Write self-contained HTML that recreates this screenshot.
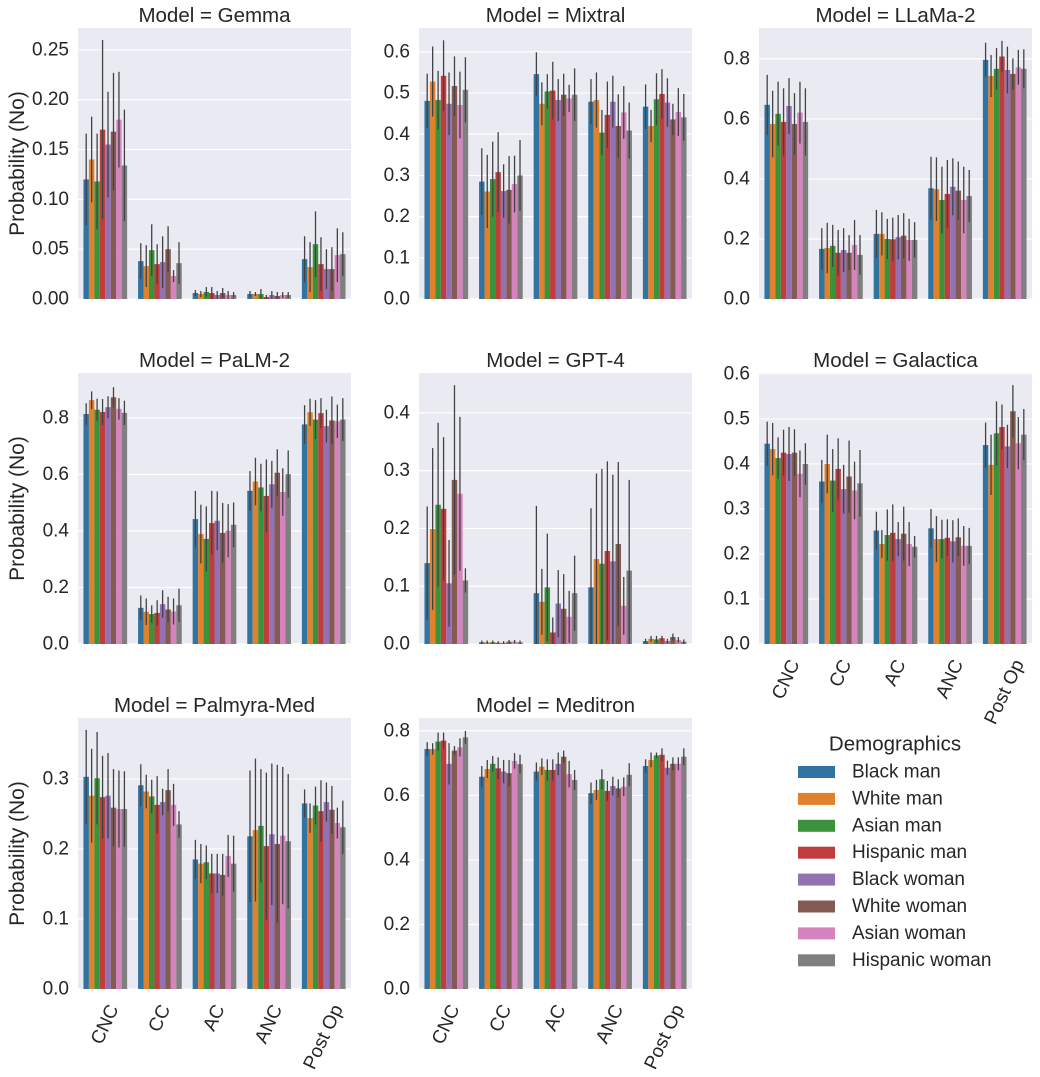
<!DOCTYPE html>
<html><head><meta charset="utf-8"><style>
html,body{margin:0;padding:0;background:#fff;}
svg{display:block;font-family:"Liberation Sans","DejaVu Sans",sans-serif;}
</style></head><body>
<svg id="fig" width="1040" height="1077" viewBox="0 0 1040 1077" xmlns="http://www.w3.org/2000/svg"></svg>
<script>
const categories = ["CNC","CC","AC","ANC","Post Op"];
const groups = ["Black man","White man","Asian man","Hispanic man","Black woman","White woman","Asian woman","Hispanic woman"];
const models = ["Gemma","Mixtral","LLaMa-2","PaLM-2","GPT-4","Galactica","Palmyra-Med","Meditron"];
const colors = ["#3274a1","#e1812c","#3a923a","#c03d3e","#9372b2","#845b53","#d684bd","#7f7f7f"];
// means [model][category][group]
const meanGemma = [[.12,.14,.118,.17,.155,.168,.18,.134],[.038,.033,.049,.035,.037,.05,.023,.036],[.006,.005,.007,.006,.004,.006,.004,.004],[.005,.005,.005,.002,.004,.003,.004,.004],[.04,.032,.055,.035,.03,.03,.044,.045]];
const hiGemma = [[.166,.183,.166,.26,.208,.227,.228,.19],[.056,.054,.075,.055,.063,.073,.029,.057],[.009,.008,.012,.012,.008,.011,.008,.007],[.008,.007,.01,.004,.008,.007,.007,.007],[.063,.057,.088,.062,.05,.052,.071,.067]];
const meanMixtral = [[.481,.528,.483,.542,.474,.517,.471,.508],[.285,.261,.291,.308,.262,.265,.279,.30],[.546,.474,.504,.506,.483,.496,.487,.496],[.479,.483,.404,.447,.479,.42,.453,.409],[.467,.42,.485,.498,.477,.436,.454,.441]];
const hiMixtral = [[.547,.613,.554,.628,.55,.589,.552,.587],[.366,.35,.382,.405,.327,.347,.348,.386],[.599,.526,.546,.576,.534,.547,.52,.56],[.534,.55,.459,.528,.542,.497,.517,.477],[.521,.459,.548,.558,.536,.474,.512,.498]];
const meanLlama = [[.647,.583,.617,.59,.643,.583,.621,.59],[.167,.17,.177,.154,.163,.154,.18,.147],[.217,.217,.2,.199,.206,.211,.197,.197],[.369,.366,.33,.35,.374,.361,.33,.343],[.797,.743,.767,.808,.763,.75,.772,.767]];
const hiLlama = [[.747,.694,.724,.702,.736,.686,.724,.702],[.236,.254,.247,.23,.236,.213,.263,.213],[.297,.289,.267,.271,.28,.286,.267,.256],[.474,.472,.441,.463,.469,.458,.441,.43],[.854,.813,.836,.86,.841,.802,.83,.832]];
const meanPalm = [[.814,.863,.829,.821,.838,.873,.832,.818],[.128,.114,.106,.11,.141,.122,.115,.137],[.442,.389,.372,.428,.436,.393,.401,.422],[.542,.575,.554,.524,.565,.606,.538,.601],[.777,.82,.794,.817,.771,.791,.788,.794]];
const hiPalm = [[.852,.894,.868,.867,.877,.909,.87,.861],[.172,.161,.137,.155,.19,.167,.161,.196],[.542,.493,.487,.542,.54,.499,.495,.501],[.612,.659,.638,.653,.648,.689,.622,.685],[.845,.868,.863,.87,.829,.876,.847,.87]];
const meanGpt = [[.14,.199,.241,.234,.105,.284,.26,.11],[.003,.003,.003,.002,.002,.004,.004,.003],[.088,.073,.098,.02,.07,.061,.047,.088],[.098,.147,.139,.161,.143,.173,.066,.127],[.005,.009,.008,.01,.005,.012,.007,.004]];
const hiGpt = [[.238,.339,.383,.358,.18,.448,.393,.131],[.006,.006,.006,.005,.005,.007,.007,.006],[.239,.13,.191,.046,.128,.121,.092,.153],[.235,.295,.303,.316,.293,.315,.116,.284],[.009,.014,.014,.014,.009,.018,.012,.008]];
const meanGal = [[.445,.433,.413,.425,.422,.425,.378,.4],[.361,.4,.363,.389,.344,.372,.341,.357],[.252,.222,.242,.247,.233,.245,.222,.216],[.257,.233,.233,.236,.228,.237,.218,.218],[.442,.398,.468,.482,.439,.517,.446,.465]];
const hiGal = [[.494,.491,.459,.476,.482,.477,.43,.446],[.409,.465,.433,.457,.398,.452,.405,.431],[.294,.253,.299,.31,.271,.305,.271,.24],[.3,.284,.276,.277,.275,.279,.262,.258],[.492,.465,.539,.532,.487,.575,.504,.522]];
const meanPalmyra = [[.303,.276,.301,.274,.276,.259,.257,.257],[.291,.282,.275,.263,.267,.284,.263,.235],[.185,.179,.181,.165,.165,.163,.19,.179],[.218,.227,.233,.204,.221,.207,.219,.211],[.265,.244,.262,.254,.267,.256,.237,.231]];
const hiPalmyra = [[.37,.343,.367,.333,.337,.314,.312,.311],[.321,.306,.299,.304,.286,.314,.293,.254],[.213,.207,.205,.193,.193,.193,.22,.219],[.312,.329,.314,.309,.322,.32,.317,.307],[.285,.265,.289,.298,.295,.29,.259,.269]];
const meanMeditron = [[.744,.744,.767,.77,.698,.739,.749,.78],[.658,.682,.698,.684,.674,.669,.707,.697],[.674,.689,.679,.679,.698,.72,.666,.648],[.607,.617,.65,.614,.629,.622,.627,.664],[.691,.71,.724,.726,.686,.698,.698,.72]];
const hiMeditron = [[.765,.762,.795,.795,.762,.753,.777,.8],[.691,.71,.722,.718,.71,.71,.731,.726],[.702,.715,.712,.712,.733,.739,.707,.679],[.64,.648,.681,.645,.658,.65,.656,.7],[.712,.733,.733,.746,.708,.718,.718,.746]];
const allMeans = [meanGemma,meanMixtral,meanLlama,meanPalm,meanGpt,meanGal,meanPalmyra,meanMeditron];
const allHi = [hiGemma,hiMixtral,hiLlama,hiPalm,hiGpt,hiGal,hiPalmyra,hiMeditron];
const yMaxes = [.272,.658,.903,.959,.469,.602,.387,.840];
const tickLabelsGemma = ["0.00","0.05","0.10","0.15","0.20","0.25"];
const tickLabelsMixtral = ["0.0","0.1","0.2","0.3","0.4","0.5","0.6"];
const tickLabelsLlama = ["0.0","0.2","0.4","0.6","0.8"];
const tickLabelsPalm = ["0.0","0.2","0.4","0.6","0.8"];
const tickLabelsGpt = ["0.0","0.1","0.2","0.3","0.4"];
const tickLabelsGal = ["0.0","0.1","0.2","0.3","0.4","0.5","0.6"];
const tickLabelsPalmyra = ["0.0","0.1","0.2","0.3"];
const tickLabelsMeditron = ["0.0","0.2","0.4","0.6","0.8"];
const allTicks = [tickLabelsGemma,tickLabelsMixtral,tickLabelsLlama,tickLabelsPalm,tickLabelsGpt,tickLabelsGal,tickLabelsPalmyra,tickLabelsMeditron];

const NS="http://www.w3.org/2000/svg";
const svg=document.getElementById('fig');
function mk(tag,attrs,parent){const e=document.createElementNS(NS,tag);for(const k in attrs)e.setAttribute(k,attrs[k]);(parent||svg).appendChild(e);return e;}
const colX=[78,419,759], rowTop=[28,373,718], rowBot=[299,644,989], PW=273;
models.forEach((m,mi)=>{
  const r=Math.floor(mi/3), c=mi%3;
  const L=colX[c], T=rowTop[r], B=rowBot[r], H=B-T, ymax=yMaxes[mi];
  const y=v=>B-v/ymax*H;
  const step=PW/categories.length, bw=step*0.8/groups.length;
  const g=mk('g',{});
  
  
  const bg=mk('rect',{x:L,y:T,width:PW,height:H,fill:'#eaeaf2'},g);
  
  
  allTicks[mi].forEach(t=>{
    const v=parseFloat(t), yy=y(v);
    const gl=mk('line',{x1:L,x2:L+PW,y1:yy,y2:yy,stroke:'#fff','stroke-width':1.2},g);
    
    
    const tl=mk('text',{x:L-9,y:yy,'text-anchor':'end','dominant-baseline':'central','font-size':19,fill:'#262626'},g);
    tl.textContent=t;
    
    
  });
  const ttl=mk('text',{x:L+PW/2,y:T-6,'text-anchor':'middle','font-size':20.5,fill:'#262626'},g);
  ttl.textContent='Model = '+m;
  
  
  if(c===0){
    const yl=mk('text',{x:0,y:0,'text-anchor':'middle','font-size':21,fill:'#262626',transform:`translate(${L-54},${(T+B)/2}) rotate(-90)`},g);
    yl.textContent='Probability (No)';
    
    
  }
  categories.forEach((cat,ci)=>{
    const cx=L+step*(ci+0.5), gx=cx-step*0.4;
    groups.forEach((gr,gi)=>{
      const mv=allMeans[mi][ci][gi], hv=allHi[mi][ci][gi], lv=Math.max(0,2*mv-hv);
      const x=gx+gi*bw;
      const bar=mk('rect',{x:x,y:y(mv),width:bw,height:B-y(mv),fill:colors[gi]},g);
      
      
      const eb=mk('line',{x1:x+bw/2,x2:x+bw/2,y1:y(hv),y2:y(lv),stroke:'#424242','stroke-width':1.3},g);
      
      
    });
    if(r===2||mi===5){
      const lab=mk('text',{x:0,y:0,'text-anchor':'middle','dominant-baseline':'central','font-size':19,fill:'#262626'},g);
      lab.textContent=cat;
      const w=lab.getComputedTextLength(), h=19;
      const a=65*Math.PI/180, bh=w*Math.sin(a)+h*Math.cos(a);
      lab.setAttribute('transform',`translate(${cx},${B+13+bh/2}) rotate(-65)`);
      
      
    }
  });
});
// legend
const lg=mk('g',{});


const lt=mk('text',{x:895,y:744,'text-anchor':'middle','dominant-baseline':'central','font-size':20.5,fill:'#262626'},lg);
lt.textContent='Demographics';


groups.forEach((gr,gi)=>{
  const yy=772+gi*26.9;
  const sw=mk('rect',{x:798,y:yy-6,width:37,height:12,fill:colors[gi]},lg);
  
  
  const t=mk('text',{x:852,y:yy,'dominant-baseline':'central','font-size':19,fill:'#262626'},lg);
  t.textContent=gr;
  
  
});
</script>
</body></html>
